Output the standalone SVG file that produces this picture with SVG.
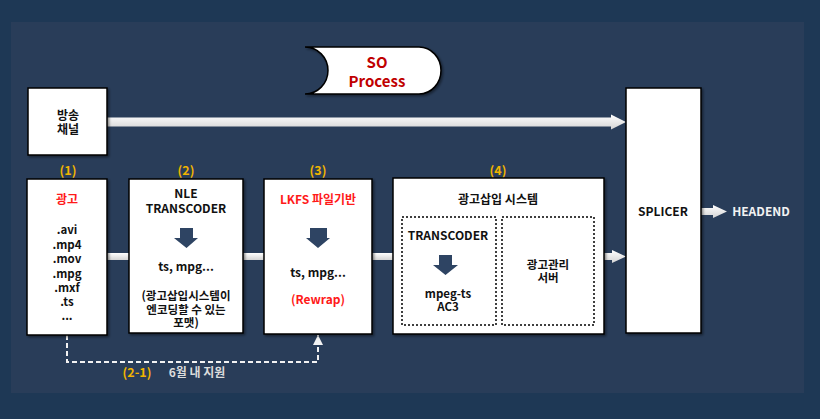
<svg xmlns="http://www.w3.org/2000/svg" width="820" height="419" viewBox="0 0 820 419">
<defs>
<linearGradient id="shaft" x1="0" y1="0" x2="0" y2="1"><stop offset="0" stop-color="#ffffff"/><stop offset="1" stop-color="#d4d4d4"/></linearGradient>
<filter id="sh" x="-10%" y="-10%" width="130%" height="130%"><feDropShadow dx="1.5" dy="1.5" stdDeviation="1" flood-color="#000" flood-opacity="0.45"/></filter>
<marker id="dhead" viewBox="0 0 10 10" refX="10" refY="5" markerWidth="10" markerHeight="10" markerUnits="userSpaceOnUse" orient="auto"><path d="M0,0 L10,5 L0,10 Z" fill="#f2f2f2"/></marker>
</defs>
<style>
text{font-family:"Noto Sans CJK KR","Noto Sans",sans-serif;font-weight:bold;font-size:12px;text-anchor:middle;fill:#111}
.sm{font-size:11.5px}
.box{fill:#fff;stroke:#000;stroke-width:1.5;filter:url(#sh)}
.dot{fill:none;stroke:#000;stroke-width:1.5;stroke-dasharray:2 2}
.num{fill:#f0b400;font-size:12.5px}
.red{fill:#ff1a1a}
.arr{fill:#2e4463}
.conn{fill:url(#shaft)}
</style>
<rect x="0" y="0" width="820" height="419" fill="#1e3855"/>
<rect x="11" y="22" width="793" height="371" fill="#293d59"/>

<g id="so-process">
<path d="M305,47 H419 A22,23.5 0 0 1 419,94 H305 A23,23.5 0 0 0 305,47 Z" fill="#fff" stroke="#000" stroke-width="1.5" filter="url(#sh)"/>
<text x="377" y="68" style="font-size:15px;fill:#c00000">SO</text>
<text x="377" y="87" style="font-size:15px;fill:#c00000">Process</text>
</g>

<g id="connectors">
<path class="conn" d="M107,117.5 H611 V114.5 L626,122 L611,129.5 V126.5 H107 Z"/>
<rect class="conn" x="107" y="253" width="22" height="7"/>
<rect class="conn" x="243" y="253" width="21" height="7"/>
<rect class="conn" x="372" y="253" width="21" height="7"/>
<path class="conn" d="M604,253 H612 V250 L626,256.5 L612,263 V260 H604 Z"/>
<path class="conn" d="M699,208 H713 V205 L727,211.5 L713,218 V215 H699 Z"/>
<path d="M67,335 V362 H318 V335" fill="none" stroke="#f2f2f2" stroke-width="2" stroke-dasharray="5 3" marker-end="url(#dhead)"/>
</g>

<g id="broadcast">
<rect class="box" x="28" y="88" width="79" height="67"/>
<text x="68" y="120">방송</text>
<text x="68" y="134">채널</text>
</g>

<g id="splicer">
<rect class="box" x="626" y="88" width="75" height="245"/>
<text x="663" y="216">SPLICER</text>
</g>

<g id="headend">
<text x="761" y="216" style="fill:#f2f2f2">HEADEND</text>
</g>

<g id="ad">
<text class="num" x="68" y="175">(1)</text>
<rect class="box" x="27" y="179" width="80" height="156"/>
<text class="red" x="67" y="204">광고</text>
<text class="sm" x="67" y="234">.avi</text>
<text class="sm" x="67" y="249">.mp4</text>
<text class="sm" x="67" y="263">.mov</text>
<text class="sm" x="67" y="278">.mpg</text>
<text class="sm" x="67" y="292">.mxf</text>
<text class="sm" x="67" y="306">.ts</text>
<text class="sm" x="67" y="320">...</text>
</g>

<g id="nle">
<text class="num" x="186" y="175">(2)</text>
<rect class="box" x="129" y="179" width="114" height="154"/>
<text x="186" y="198">NLE</text>
<text x="186" y="213">TRANSCODER</text>
<path class="arr" d="M180,228 H193 V238 H198 L186.5,248 L174,238 H180 Z"/>
<text x="186" y="271">ts, mpg...</text>
<text class="sm" x="186" y="300">(광고삽입시스템이</text>
<text class="sm" x="186" y="314">엔코딩할 수 있는</text>
<text class="sm" x="186" y="327">포맷)</text>
</g>

<g id="lkfs">
<text class="num" x="318" y="175">(3)</text>
<rect class="box" x="264" y="179" width="108" height="155"/>
<text class="red" x="318" y="204">LKFS 파일기반</text>
<path class="arr" d="M310,228 H327 V238 H330 L318,248 L306,238 H310 Z"/>
<text x="318" y="277">ts, mpg...</text>
<text class="red" x="318" y="304">(Rewrap)</text>
</g>

<g id="ad-system">
<text class="num" x="498" y="175">(4)</text>
<rect class="box" x="393" y="178" width="211" height="156"/>
<text x="498" y="204">광고삽입 시스템</text>
<rect class="dot" x="402" y="217" width="94" height="108"/>
<text x="448" y="240">TRANSCODER</text>
<path class="arr" d="M439,255 H452 V265 H458 L445.5,275 L433,265 H439 Z"/>
<text class="sm" x="448" y="298">mpeg-ts</text>
<text class="sm" x="448" y="311">AC3</text>
<rect class="dot" x="502" y="217" width="92" height="108"/>
<text class="sm" x="548" y="269">광고관리</text>
<text class="sm" x="548" y="282">서버</text>
</g>

<g id="june-note">
<text class="num" x="137" y="377">(2-1)</text>
<text x="197" y="377" style="fill:#dcdcdc">6월 내 지원</text>
</g>
</svg>
